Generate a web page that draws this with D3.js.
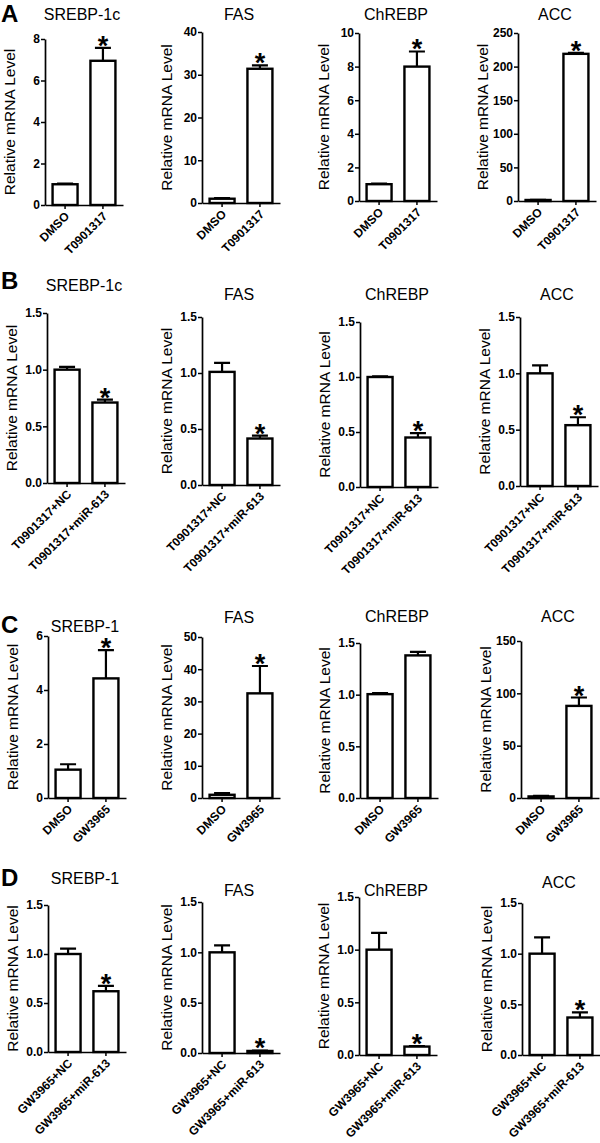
<!DOCTYPE html>
<html>
<head>
<meta charset="utf-8">
<script src="https://cdn.jsdelivr.net/npm/d3@7"></script>
<style>
  body { margin: 0; background: #fff; }
  svg { display: block; }
  text { font-family: Arial, "Liberation Sans", sans-serif; fill: #000; }
</style>
</head>
<body>
<div id="chart"></div>
<script>
// data
const rowLetters = ["A", "B", "C", "D"];
const groups = [
  ["DMSO", "T0901317"],
  ["T0901317+NC", "T0901317+miR-613"],
  ["DMSO", "GW3965"],
  ["GW3965+NC", "GW3965+miR-613"]
];
const genes = [
  ["SREBP-1c", "FAS", "ChREBP", "ACC"],
  ["SREBP-1c", "FAS", "ChREBP", "ACC"],
  ["SREBP-1", "FAS", "ChREBP", "ACC"],
  ["SREBP-1", "FAS", "ChREBP", "ACC"]
];
const means = [
  [[1.0, 6.95], [1.0, 31.4], [1.0, 8.0], [1.5, 219]],
  [[1.0, 0.71], [1.01, 0.415], [1.0, 0.45], [1.0, 0.54]],
  [[1.05, 4.43], [1.0, 32.5], [1.005, 1.38], [1.5, 88]],
  [[1.0, 0.62], [1.0, 0.02], [1.0, 0.08], [1.0, 0.37]]
];
const errors = [
  [[0.03, 0.62], [0.15, 0.8], [0.03, 0.9], [0.3, 1.5]],
  [[0.025, 0.025], [0.08, 0.025], [0.005, 0.04], [0.07, 0.07]],
  [[0.2, 1.05], [0.5, 8.5], [0.01, 0.035], [0.5, 8]],
  [[0.055, 0.055], [0.07, 0.005], [0.16, 0.005], [0.16, 0.05]]
];
const stars = [
  [true, true, true, true],
  [true, true, true, true],
  [true, true, false, true],
  [true, true, true, true]
];
const yMax = [[8, 40, 10, 250], [1.5, 1.5, 1.5, 1.5], [6, 50, 1.5, 150], [1.5, 1.5, 1.5, 1.5]];
const yStep = [[2, 10, 2, 50], [0.5, 0.5, 0.5, 0.5], [2, 10, 0.5, 50], [0.5, 0.5, 0.5, 0.5]];

// layout (pixels)
const axisX = [[45, 202, 359, 518], [47, 202, 360, 520], [48, 202, 360, 521], [48, 202, 359, 522]];
const plotTop = [[39, 32, 33, 33], [313, 317, 322, 317], [636, 637, 643, 641], [905, 902, 897, 903]];
const plotZero = [[205, 203, 201, 201], [483, 485, 487, 486], [798, 798, 798, 798], [1052, 1053, 1055, 1055]];
const titleY = [[20, 20, 20, 20], [291, 300, 300, 300], [632, 623, 622, 622], [884, 896, 896, 888]];
const letterY = [22, 289, 633, 886];
const plotW = 78;

const svg = d3.select("#chart").append("svg").attr("width", 600).attr("height", 1143);

rowLetters.forEach((letter, r) => {
  svg.append("text")
    .attr("x", 1)
    .attr("y", letterY[r])
    .style("font-size", "24px")
    .style("font-weight", "bold")
    .text(letter);

  genes[r].forEach((gene, p) => {
    const ax = axisX[r][p];
    const zero = plotZero[r][p];
    const g = svg.append("g");
    const y = d3.scaleLinear().domain([0, yMax[r][p]]).range([zero, plotTop[r][p]]);
    const x = d3.scaleBand().domain(groups[r]).range([ax, ax + plotW])
      .paddingInner(0.34).paddingOuter(0.2);
    const fmt = yStep[r][p] < 1 ? d3.format(".1f") : d3.format("d");

    const rows = groups[r].map((name, i) => ({
      name: name, v: means[r][p][i], e: errors[r][p][i], s: stars[r][p] && i == 1
    }));

    // error bars, upper side only
    g.selectAll(".err")
      .data(rows)
      .enter()
      .append("path")
      .attr("fill", "none")
      .attr("stroke", "#000")
      .attr("stroke-width", 2.2)
      .attr("d", (d) => {
        const cx = x(d.name) + x.bandwidth() / 2;
        const t = y(d.v + d.e);
        return "M" + cx + "," + y(d.v) + "V" + t + "M" + (cx - 8) + "," + t + "H" + (cx + 8);
      });

    g.selectAll("rect")
      .data(rows)
      .enter()
      .append("rect")
      .attr("x", (d) => x(d.name))
      .attr("y", (d) => y(d.v))
      .attr("width", x.bandwidth())
      .attr("height", (d) => y(0) - y(d.v))
      .attr("fill", "#fff")
      .attr("stroke", "#000")
      .attr("stroke-width", 2.4);

    g.selectAll(".star")
      .data(rows.filter((d) => d.s))
      .enter()
      .append("text")
      .attr("x", (d) => x(d.name) + x.bandwidth() / 2)
      .attr("y", (d) => y(d.v + d.e) + 7)
      .attr("text-anchor", "middle")
      .style("font-size", "27px")
      .style("font-weight", "bold")
      .text("*");

    const yAxis = g.append("g")
      .attr("transform", "translate(" + ax + ",0)")
      .call(d3.axisLeft(y)
        .tickValues(d3.range(0, yMax[r][p] + yStep[r][p] / 2, yStep[r][p]))
        .tickFormat(fmt)
        .tickSize(4)
        .tickSizeOuter(0));
    yAxis.selectAll("text")
      .attr("x", -5)
      .style("font-size", "12px")
      .style("font-weight", "bold");

    g.append("g")
      .attr("transform", "translate(0," + zero + ")")
      .call(d3.axisBottom(x).tickSize(4).tickSizeOuter(0).tickFormat(""));

    // group labels at 45 degrees
    g.selectAll(".xlab")
      .data(groups[r])
      .enter()
      .append("text")
      .attr("text-anchor", "end")
      .attr("transform", (d) =>
        "translate(" + (x(d) + x.bandwidth() / 2 + 5) + "," + (zero + 12) + ") rotate(-45)")
      .attr("font-size", 12)
      .attr("font-weight", "bold")
      .text((d) => d);

    g.selectAll(".domain").attr("stroke-width", 1.7);
    g.selectAll(".tick line").attr("stroke-width", 1.5);

    g.append("text")
      .attr("x", ax + 37)
      .attr("y", titleY[r][p])
      .attr("text-anchor", "middle")
      .style("font-size", "16px")
      .text(gene);

    g.append("text")
      .attr("transform", "translate(" + (ax - 30) + "," + ((plotTop[r][p] + zero) / 2) + ") rotate(-90)")
      .attr("text-anchor", "middle")
      .style("font-size", "15.5px")
      .text("Relative mRNA Level");
  });
});
</script>
</body>
</html>
